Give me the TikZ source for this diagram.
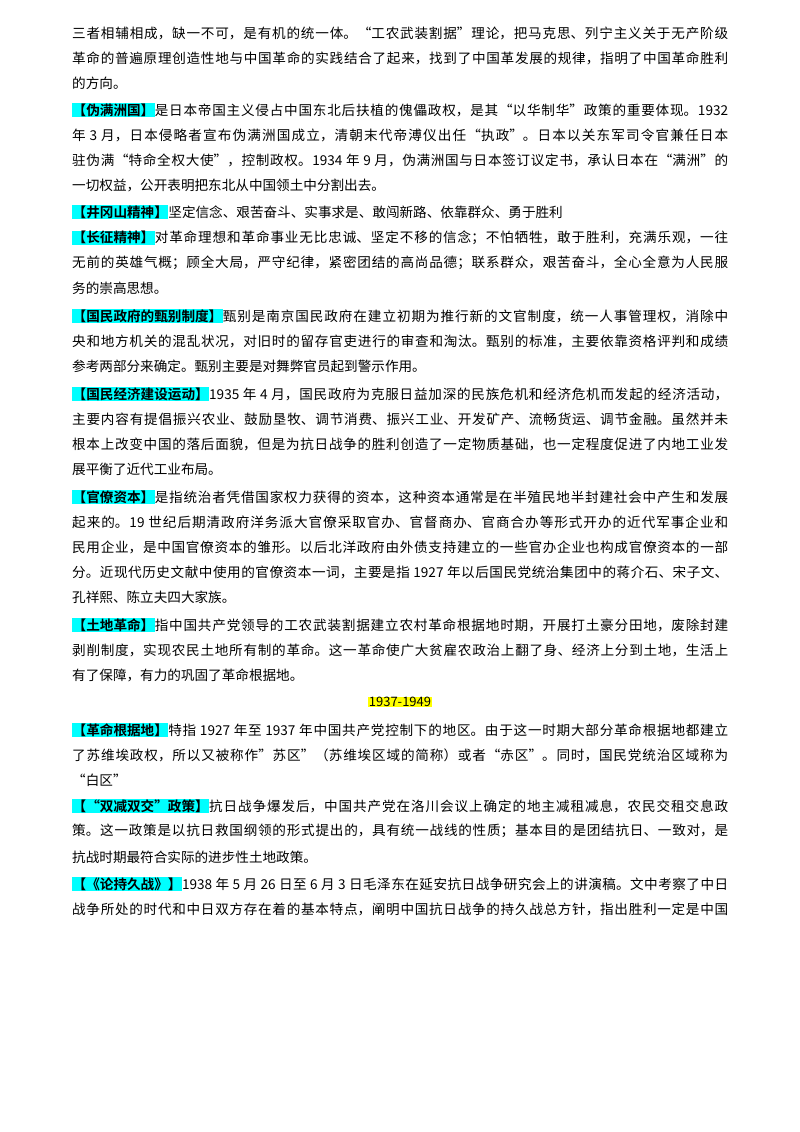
\documentclass[tikz,border=0pt]{standalone}
\usepackage{fontspec}
\setmainfont{Noto Sans CJK SC}[BoldFont={Noto Sans CJK SC Bold}]
\XeTeXlinebreaklocale "zh"
\XeTeXlinebreakskip=0pt plus 2pt
\definecolor{hl}{RGB}{0,255,255}
\definecolor{yl}{RGB}{255,255,0}
\newcount\lncnt
\newcommand{\tl}[2]{\global\advance\lncnt by 1
 \node[anchor=west,inner sep=0pt,font=\fontsize{13.6}{16}\selectfont] (l\the\lncnt) at (72,#1) {\parbox{656pt}{\parfillskip=0pt #2}};}
\newcommand{\tle}[2]{\global\advance\lncnt by 1
 \node[anchor=west,inner sep=0pt,font=\fontsize{13.6}{16}\selectfont] (l\the\lncnt) at (72,#1) {#2};}
\newcommand{\hk}[1]{{\setlength\fboxsep{0.5pt}\colorbox{hl}{\bfseries #1}}}
\begin{document}
\begin{tikzpicture}[x=1pt,y=-1pt]
\useasboundingbox (0,0) rectangle (800,1132);
\tl{33}{三者相辅相成，缺一不可，是有机的统一体。“工农武装割据”理论，把马克思、列宁主义关于无产阶级}
\tl{58}{革命的普遍原理创造性地与中国革命的实践结合了起来，找到了中国革发展的规律，指明了中国革命胜利}
\tle{83}{的方向。}
\tl{110}{\hk{【伪满洲国】}是日本帝国主义侵占中国东北后扶植的傀儡政权，是其“以华制华”政策的重要体现。1932}
\tl{135}{年 3 月，日本侵略者宣布伪满洲国成立，清朝末代帝溥仪出任“执政”。日本以关东军司令官兼任日本}
\tl{160}{驻伪满“特命全权大使”，控制政权。1934 年 9 月，伪满洲国与日本签订议定书，承认日本在“满洲”的}
\tle{185}{一切权益，公开表明把东北从中国领土中分割出去。}
\tle{212}{\hk{【井冈山精神】}坚定信念、艰苦奋斗、实事求是、敢闯新路、依靠群众、勇于胜利}
\tl{238}{\hk{【长征精神】}对革命理想和革命事业无比忠诚、坚定不移的信念；不怕牺牲，敢于胜利，充满乐观，一往}
\tl{263}{无前的英雄气概；顾全大局，严守纪律，紧密团结的高尚品德；联系群众，艰苦奋斗，全心全意为人民服}
\tle{288}{务的崇高思想。}
\tl{316}{\hk{【国民政府的甄别制度】}甄别是南京国民政府在建立初期为推行新的文官制度，统一人事管理权，消除中}
\tl{341}{央和地方机关的混乱状况，对旧时的留存官吏进行的审查和淘汰。甄别的标准，主要依靠资格评判和成绩}
\tle{366}{参考两部分来确定。甄别主要是对舞弊官员起到警示作用。}
\tl{394}{\hk{【国民经济建设运动】}1935 年 4 月，国民政府为克服日益加深的民族危机和经济危机而发起的经济活动，}
\tl{419}{主要内容有提倡振兴农业、鼓励垦牧、调节消费、振兴工业、开发矿产、流畅货运、调节金融。虽然并未}
\tl{444}{根本上改变中国的落后面貌，但是为抗日战争的胜利创造了一定物质基础，也一定程度促进了内地工业发}
\tle{469}{展平衡了近代工业布局。}
\tl{497}{\hk{【官僚资本】}是指统治者凭借国家权力获得的资本，这种资本通常是在半殖民地半封建社会中产生和发展}
\tl{522}{起来的。19 世纪后期清政府洋务派大官僚采取官办、官督商办、官商合办等形式开办的近代军事企业和}
\tl{547}{民用企业，是中国官僚资本的雏形。以后北洋政府由外债支持建立的一些官办企业也构成官僚资本的一部}
\tl{572}{分。近现代历史文献中使用的官僚资本一词，主要是指 1927 年以后国民党统治集团中的蒋介石、宋子文、}
\tle{597}{孔祥熙、陈立夫四大家族。}
\tl{625}{\hk{【土地革命】}指中国共产党领导的工农武装割据建立农村革命根据地时期，开展打土豪分田地，废除封建}
\tl{650}{剥削制度，实现农民土地所有制的革命。这一革命使广大贫雇农政治上翻了身、经济上分到土地，生活上}
\tle{675}{有了保障，有力的巩固了革命根据地。}
\node[inner sep=0.5pt,fill=yl,font=\fontsize{13}{16}\selectfont] (yr) at (400,702) {1937-1949};
\tl{730}{\hk{【革命根据地】}特指 1927 年至 1937 年中国共产党控制下的地区。由于这一时期大部分革命根据地都建立}
\tl{755}{了苏维埃政权，所以又被称作"苏区"（苏维埃区域的简称）或者“赤区”。同时，国民党统治区域称为}
\tle{780}{“白区”}
\tl{806}{\hk{【“双减双交”政策】}抗日战争爆发后，中国共产党在洛川会议上确定的地主减租减息，农民交租交息政}
\tl{831}{策。这一政策是以抗日救国纲领的形式提出的，具有统一战线的性质；基本目的是团结抗日、一致对，是}
\tle{857}{抗战时期最符合实际的进步性土地政策。}
\tl{884}{\hk{【《论持久战》】}1938 年 5 月 26 日至 6 月 3 日毛泽东在延安抗日战争研究会上的讲演稿。文中考察了中日}
\tl{909}{战争所处的时代和中日双方存在着的基本特点，阐明中国抗日战争的持久战总方针，指出胜利一定是中国}
\end{tikzpicture}
\end{document}
